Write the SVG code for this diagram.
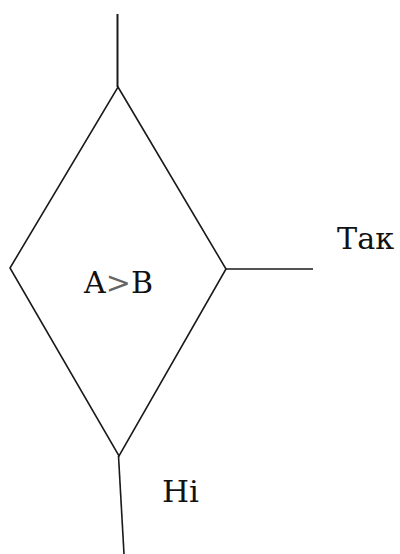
<svg xmlns="http://www.w3.org/2000/svg" width="400" height="554" viewBox="0 0 400 554">
<style>
.ln{stroke:#1a1a1a;stroke-width:1.6;fill:none}
.t{font-family:'DejaVu Serif','Liberation Serif',serif;font-size:29px;fill:#111}
</style>
<rect width="400" height="554" fill="#fff"/>
<g id="connectors">
<line class="ln" x1="117.5" y1="14" x2="117.5" y2="87" style="stroke-width:2"/>
<line class="ln" x1="226" y1="269" x2="313" y2="269"/>
<line class="ln" x1="118.5" y1="456" x2="124" y2="554"/>
</g>
<g id="decision">
<polygon class="ln" points="118,87 226,269 119,456 10,268"/>
<text class="t" x="84" y="293" textLength="69" lengthAdjust="spacingAndGlyphs">A<tspan fill="#666">&gt;</tspan>B</text>
</g>
<text class="t" x="337" y="249" textLength="57" lengthAdjust="spacingAndGlyphs">Так</text>
<text class="t" x="162" y="502" textLength="37" lengthAdjust="spacingAndGlyphs">Hi</text>
</svg>
